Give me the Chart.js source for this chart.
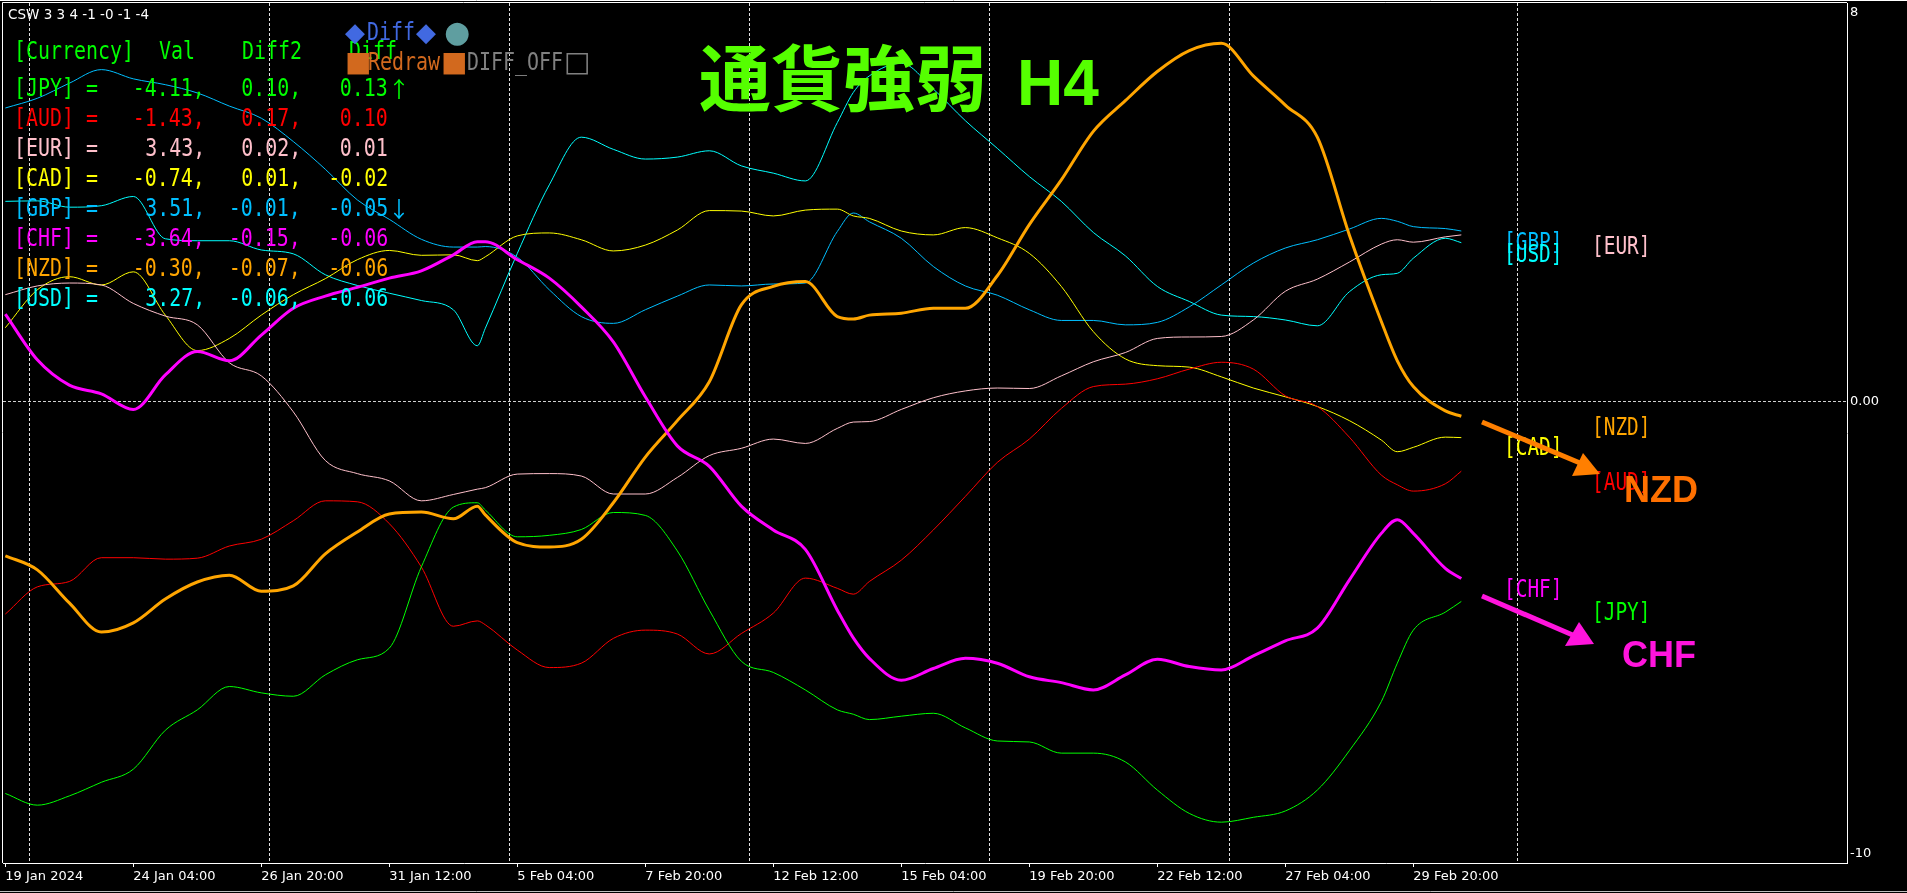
<!DOCTYPE html>
<html>
<head>
<meta charset="utf-8">
<script src="https://cdn.jsdelivr.net/npm/chart.js@4.4.1/dist/chart.umd.min.js"></script>
<style>
  html, body { margin:0; padding:0; background:#000; overflow:hidden; }
  #wrap { position:relative; width:1907px; height:893px; }
  #mychart { position:absolute; left:0; top:0; }
  #overlay, #arrows { position:absolute; left:0; top:0; width:1907px; height:893px; pointer-events:none; }
  .t { position:absolute; white-space:pre; line-height:1; }
  .mono { font-family:'DejaVu Sans Mono', monospace; font-size:24px; transform:scaleX(0.83); }
  .mono2 { font-family:'DejaVu Sans Mono', monospace; font-size:24px; transform:scaleX(0.81); }
  .sym { font-family:'DejaVu Sans', sans-serif; }
  .arw { font-family:'Noto Sans CJK JP', sans-serif; font-size:22px; }
</style>
</head>
<body>
<div id="wrap">
  <canvas id="mychart" width="1907" height="893"></canvas>
  <div id="overlay"></div>
  <svg id="arrows" width="1907" height="893">
    <line x1="1482" y1="422" x2="1580" y2="463" stroke="#ff7f00" stroke-width="5"/>
    <polygon points="1600,474 1583,453 1572,476" fill="#ff7f00"/>
    <line x1="1482" y1="596" x2="1575" y2="636" stroke="#ff14dc" stroke-width="5"/>
    <polygon points="1594,644 1579,622 1565,646" fill="#ff14dc"/>
  </svg>
</div>
<script>
// bar index (H4 bars counted from 19 Jan 12:00)
const bars = [0,4,8,12,16,20,24,28,32,36,40,44,48,52,56,59,60,64,68,72,76,80,84,88,92,96,100,104,106,108,112,116,120,124,128,132,136,140,144,148,152,156,160,164,168,172,174,176,180,182];

const jpy = [-8.06,-8.30,-8.11,-7.83,-7.56,-6.76,-6.34,-5.86,-5.99,-6.06,-5.62,-5.31,-5.07,-3.40,-2.17,-2.08,-2.23,-2.78,-2.75,-2.63,-2.28,-2.34,-3.07,-4.29,-5.34,-5.57,-5.93,-6.34,-6.43,-6.54,-6.47,-6.41,-6.71,-6.98,-7.00,-7.23,-7.23,-7.41,-7.99,-8.47,-8.65,-8.55,-8.42,-7.99,-7.18,-6.17,-5.38,-4.70,-4.33,-4.11];
const aud = [-4.37,-3.81,-3.70,-3.21,-3.21,-3.24,-3.22,-2.97,-2.83,-2.45,-2.04,-2.06,-2.51,-3.40,-4.62,-4.51,-4.59,-5.11,-5.47,-5.38,-4.87,-4.70,-4.78,-5.19,-4.77,-4.35,-3.63,-3.84,-3.96,-3.70,-3.26,-2.64,-1.95,-1.25,-0.77,-0.14,0.31,0.36,0.47,0.67,0.81,0.67,0.12,-0.10,-0.73,-1.51,-1.71,-1.84,-1.69,-1.43];
const eur = [2.20,2.38,2.44,2.40,2.02,1.76,1.58,0.80,0.53,-0.21,-1.21,-1.48,-1.63,-2.04,-1.91,-1.80,-1.77,-1.49,-1.48,-1.53,-1.90,-1.90,-1.56,-1.11,-0.96,-0.77,-0.86,-0.55,-0.42,-0.41,-0.16,0.08,0.22,0.28,0.27,0.53,0.82,1.01,1.30,1.33,1.34,1.68,2.27,2.52,2.87,3.24,3.33,3.28,3.39,3.43];
const cad = [1.52,2.30,2.57,2.40,2.67,1.78,1.05,1.30,1.78,2.20,2.53,2.92,3.11,3.01,3.02,2.90,2.98,3.41,3.47,3.33,3.10,3.22,3.53,3.93,3.92,3.82,3.94,3.96,3.82,3.77,3.51,3.43,3.58,3.37,3.05,2.37,1.44,0.88,0.74,0.71,0.51,0.28,0.10,-0.10,-0.39,-0.79,-1.03,-0.94,-0.73,-0.74];
const gbp = [6.04,6.24,6.55,6.83,6.64,6.52,6.35,6.08,5.83,5.35,4.78,4.15,3.75,3.34,3.18,3.18,3.19,2.97,2.30,1.75,1.61,1.89,2.17,2.40,2.38,2.42,2.44,3.50,3.88,3.70,3.36,2.78,2.38,2.19,1.89,1.67,1.67,1.58,1.63,1.95,2.40,2.85,3.16,3.33,3.55,3.77,3.71,3.60,3.56,3.51];
const chf = [1.80,0.86,0.34,0.16,-0.16,0.55,1.03,0.84,1.37,1.92,2.17,2.35,2.54,2.69,3.02,3.29,3.29,2.92,2.54,1.95,1.23,0.10,-0.91,-1.33,-2.15,-2.64,-3.04,-4.29,-4.86,-5.28,-5.73,-5.49,-5.28,-5.38,-5.66,-5.78,-5.93,-5.62,-5.30,-5.45,-5.52,-5.23,-4.92,-4.66,-3.67,-2.71,-2.43,-2.71,-3.43,-3.64];
const nzd = [-3.17,-3.46,-4.14,-4.74,-4.55,-4.06,-3.71,-3.57,-3.90,-3.79,-3.13,-2.68,-2.31,-2.27,-2.41,-2.15,-2.33,-2.90,-2.99,-2.83,-2.08,-1.14,-0.39,0.41,1.99,2.37,2.47,1.75,1.70,1.78,1.82,1.92,1.92,2.59,3.64,4.56,5.56,6.19,6.79,7.22,7.37,6.70,6.10,5.44,3.43,1.65,0.84,0.31,-0.19,-0.30];
const usd = [4.12,4.13,4.00,4.03,4.22,3.35,3.31,3.31,3.12,3.04,2.61,2.39,2.23,2.08,1.89,1.15,1.51,3.05,4.46,5.44,5.19,4.99,5.03,5.16,4.85,4.70,4.54,5.74,6.36,6.70,6.96,6.43,5.78,5.21,4.63,4.12,3.48,3.00,2.37,2.06,1.78,1.75,1.68,1.56,2.26,2.61,2.64,2.95,3.36,3.27];

// legend table
const currencies = ['JPY','AUD','EUR','CAD','GBP','CHF','NZD','USD'];
const vals  = ['-4.11','-1.43','3.43','-0.74','3.51','-3.64','-0.30','3.27'];
const diff2 = ['0.10','0.17','0.02','0.01','-0.01','-0.15','-0.07','-0.06'];
const diff  = ['0.13','0.10','0.01','-0.02','-0.05','-0.06','-0.06','-0.06'];
const marks = ['↑','','','','↓','','',''];
const colors = ['#00ff00','#ff0000','#ffc0cb','#ffff00','#00bfff','#ff00ff','#ffa500','#00ffff'];

// axis labels
const dateLabels = ['19 Jan 2024','24 Jan 04:00','26 Jan 20:00','31 Jan 12:00','5 Feb 04:00','7 Feb 20:00','12 Feb 12:00','15 Feb 04:00','19 Feb 20:00','22 Feb 12:00','27 Feb 04:00','29 Feb 20:00'];
const labelBars = [0,16,32,48,64,80,96,112,128,144,160,176];
const weekBars = [3,33,63,93,123,153,189];
const yTickValues = [-9.3, 0, 8];
const yTickLabels = ['-10','0.00','8'];

const seriesList = [jpy, aud, eur, cad, gbp, chf, nzd, usd];
const widths = [1,1,1,1,1,3,3,1];
const drawOrder = [2,3,4,5,6,0,1,7];

let blue = '#4169e1'

// chart frame (top and left borders)
const framePlugin = {
  id: 'frame',
  afterDraw(chart) {
    const {ctx, chartArea: a} = chart;
    ctx.save();
    ctx.strokeStyle = '#ffffff';
    ctx.lineWidth = 1;
    ctx.beginPath();
    ctx.moveTo(0, 0.5); ctx.lineTo(1907, 0.5);
    ctx.moveTo(a.left - 0.5, a.top - 0.5); ctx.lineTo(a.right, a.top - 0.5);
    ctx.moveTo(a.left - 0.5, a.top - 0.5); ctx.lineTo(a.left - 0.5, a.bottom);
    ctx.stroke();
    ctx.strokeStyle = '#bdbdbd';
    ctx.beginPath();
    ctx.moveTo(0, 891.5); ctx.lineTo(1907, 891.5);
    ctx.stroke();
    ctx.restore();
  }
};

Chart.defaults.font.family = 'DejaVu Sans';

let myChart = document.getElementById('mychart').getContext('2d');
let cswChart = new Chart(myChart, {
  type: 'line',
  data: {
    datasets: currencies.map((c, i) => ({
      label: c,
      data: bars.map((b, k) => ({x: b, y: seriesList[i][k]})),
      borderColor: colors[i],
      borderWidth: widths[i],
      pointRadius: 0,
      cubicInterpolationMode: 'monotone',
      order: drawOrder[i]
    }))
  },
  options: {
    responsive: false,
    animation: false,
    layout: { padding: { left: 3, top: 3, right: 0, bottom: 0 } },
    scales: {
      x: {
        type: 'linear',
        min: -0.29,
        max: 230.21,
        afterFit: s => { s.height = 30; s.paddingLeft = 0; s.paddingRight = 0; },
        afterBuildTicks: s => {
          s.ticks = labelBars.concat(weekBars).sort((a, b) => a - b).map(v => ({value: v}));
        },
        ticks: {
          color: '#ffffff',
          font: { size: 13 },
          align: 'start',
          maxRotation: 0,
          autoSkip: false,
          padding: 2,
          callback: v => {
            const i = labelBars.indexOf(v);
            return i >= 0 ? dateLabels[i] : '';
          }
        },
        grid: {
          color: ctx => (ctx.tick && weekBars.includes(ctx.tick.value)) ? '#e0e0e0' : 'rgba(0,0,0,0)',
          tickColor: ctx => (ctx.tick && labelBars.includes(ctx.tick.value)) ? '#ffffff' : 'rgba(0,0,0,0)',
          tickLength: 4
        },
        border: { display: true, color: '#ffffff', width: 1, dash: [3, 2] }
      },
      y: {
        position: 'right',
        min: -9.49,
        max: 8.20,
        afterFit: s => { s.width = 60; s.paddingTop = 0; s.paddingBottom = 0; },
        afterBuildTicks: s => { s.ticks = yTickValues.map(v => ({value: v})); },
        ticks: {
          color: '#ffffff',
          font: { size: 13 },
          padding: 3,
          callback: (v, i) => yTickLabels[i]
        },
        grid: {
          color: ctx => (ctx.tick && ctx.tick.value === 0) ? '#d0d0d0' : 'rgba(0,0,0,0)',
          drawTicks: false
        },
        border: { display: true, color: '#ffffff', width: 1, dash: [3, 2] }
      }
    },
    plugins: {
      legend: { display: false },
      tooltip: { enabled: false }
    }
  },
  plugins: [framePlugin]
});

// texts drawn over the chart
const overlay = document.getElementById('overlay');
function addText(text, o) {
  const d = document.createElement('div');
  d.className = 't ' + (o.cls || '');
  d.textContent = text;
  d.style.color = o.color;
  if (o.size) d.style.fontSize = o.size + 'px';
  if (o.font) d.style.fontFamily = o.font;
  if (o.weight) d.style.fontWeight = o.weight;
  d.style.top = o.top + 'px';
  if (o.right != null) {
    d.style.right = (1907 - o.right) + 'px';
    d.style.transformOrigin = 'right center';
  } else {
    d.style.left = o.left + 'px';
    d.style.transformOrigin = 'left center';
  }
  overlay.appendChild(d);
}
const monoTop = yc => yc - 12.7;

addText('CSW 3 3 4 -1 -0 -1 -4', {left: 8, top: 8, color: '#ffffff', font: 'DejaVu Sans', size: 13.5});

// header row
addText('[Currency]', {cls: 'mono', left: 14, top: monoTop(52), color: '#00ff00'});
addText('Val', {cls: 'mono', left: 159, top: monoTop(52), color: '#00ff00'});
addText('Diff2', {cls: 'mono', left: 241.5, top: monoTop(52), color: '#00ff00'});
addText('Diff', {cls: 'mono', left: 349, top: monoTop(52), color: '#00ff00'});

currencies.forEach((c, i) => {
  const yc = 89 + 30 * i;
  addText('[' + c + ']', {cls: 'mono', left: 14, top: monoTop(yc), color: colors[i]});
  addText('=', {cls: 'mono', left: 86, top: monoTop(yc), color: colors[i]});
  addText(vals[i] + ',', {cls: 'mono', right: 205, top: monoTop(yc), color: colors[i]});
  addText(diff2[i] + ',', {cls: 'mono', right: 301, top: monoTop(yc), color: colors[i]});
  addText(diff[i], {cls: 'mono', right: 388, top: monoTop(yc), color: colors[i]});
  if (marks[i]) addText(marks[i], {cls: 'arw', left: 388, top: yc - 13, color: colors[i]});
});

// buttons
addText('◆', {cls: 'sym', left: 345, top: 33 - 14, size: 26, color: blue});
addText('Diff', {cls: 'mono', left: 367, top: monoTop(33), color: blue});
addText('◆', {cls: 'sym', left: 416, top: 33 - 14, size: 26, color: blue});
addText('●', {cls: 'sym', left: 444, top: 33 - 16, size: 30, color: '#5f9ea0'});
addText('■', {cls: 'sym', left: 345, top: 63 - 15, size: 28, color: '#d2691e'});
addText('Redraw', {cls: 'mono', left: 368, top: monoTop(63), color: '#d2691e'});
addText('■', {cls: 'sym', left: 441, top: 63 - 15, size: 28, color: '#d2691e'});
addText('DIFF_OFF', {cls: 'mono', left: 467, top: monoTop(63), color: '#808080'});
addText('□', {cls: 'sym', left: 564, top: 63 - 15, size: 28, color: '#808080'});

// title
addText('通貨強弱', {left: 699, top: 37.5, color: '#55ff00', font: "'Noto Sans CJK JP'", size: 72, weight: 700});
addText('H4', {left: 1017, top: 50.5, color: '#55ff00', font: "'Liberation Sans'", size: 64, weight: 700});

// labels at the right end
const endLabels = [
  ['JPY', 1592, 613], ['AUD', 1592, 483], ['EUR', 1592, 247], ['CAD', 1504, 448],
  ['GBP', 1504, 243], ['CHF', 1504, 590], ['NZD', 1592, 428], ['USD', 1504, 255]
];
endLabels.forEach((e, i) => {
  addText('[' + e[0] + ']', {cls: 'mono2', left: e[1], top: monoTop(e[2]), color: colors[i]});
});

addText('NZD', {left: 1624, top: 472, color: '#ff7000', font: "'Liberation Sans'", size: 36, weight: 700});
addText('CHF', {left: 1622, top: 637, color: '#ff14dc', font: "'Liberation Sans'", size: 36, weight: 700});
</script>
</body>
</html>
